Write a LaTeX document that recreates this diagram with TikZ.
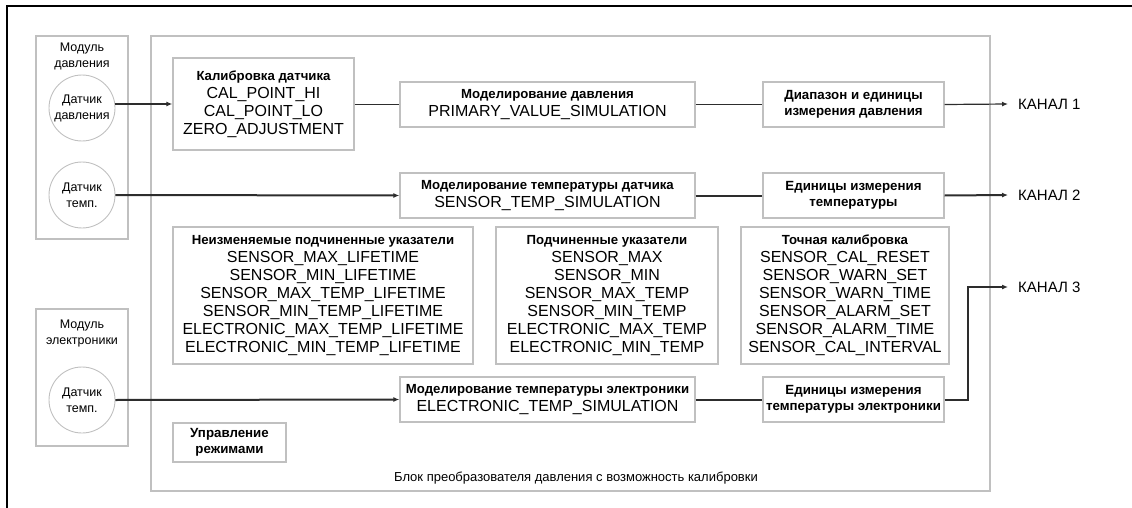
\documentclass[tikz,border=0pt]{standalone}
\usepackage{fontspec}
\setmainfont{Liberation Sans}
\usetikzlibrary{arrows.meta}
\definecolor{boxgray}{RGB}{192,192,192}
\definecolor{wiregray}{RGB}{45,45,45}
\newcommand{\hd}[1]{{\fontsize{13.2}{15}\bfseries #1}}

\begin{document}
\begin{tikzpicture}[x=1pt, y=-1pt,
	box/.style={draw=boxgray, line width=1.4pt, inner sep=0pt, align=center,
		font=\fontsize{16}{18}\selectfont},
	bbox/.style={box, font=\fontsize{13.3}{16}\bfseries},
	modbox/.style={draw=boxgray, line width=1.4pt, inner sep=0pt},
	sensor/.style={circle, draw=boxgray, line width=0.9pt, minimum size=66pt,
		inner sep=0pt, align=center, font=\fontsize{12.5}{16}\selectfont},
	lbl/.style={align=center, inner sep=0pt, font=\fontsize{12.5}{16}\selectfont},
	chan/.style={anchor=west, inner sep=0pt, inner xsep=10pt, font=\fontsize{15}{18}\selectfont},
	wire/.style={draw=wiregray, line width=1.2pt},
	twire/.style={draw=wiregray, line width=2pt},
	tip/.style={-{Latex[length=6pt, width=5pt]}}
	]

	\useasboundingbox (0,0) rectangle (1132,508);
	\draw[line width=1.6pt] (7,508) -- (7,6) -- (1132,6);

	% modules
	\node[modbox, minimum width=92pt, minimum height=203pt] (mod-p) at (82,137.5) {};
	\node[modbox, minimum width=92pt, minimum height=137pt] (mod-e) at (82,377.5) {};
	\node[lbl] (mod-p-t) at (82,56) {Модуль\\давления};
	\node[lbl] (mod-e-t) at (82,333) {Модуль\\электроники};

	\node[sensor] (sens-p) at (82,108) {Датчик\\давления};
	\node[sensor] (sens-t1) at (82,195) {Датчик\\темп.};
	\node[sensor] (sens-t2) at (82,400) {Датчик\\темп.};

	% transducer block
	\node[modbox, minimum width=839pt, minimum height=455pt] (blk) at (570.5,263.5) {};
	\node[lbl, font=\fontsize{13}{15}\selectfont] (blk-t) at (576,478)
		{Блок преобразователя давления с возможность калибровки};

	\node[box, minimum width=181pt, minimum height=92pt] (calib) at (263.5,104)
		{\hd{Калибровка датчика}\\CAL\_POINT\_HI\\CAL\_POINT\_LO\\ZERO\_ADJUSTMENT};
	\node[box, minimum width=295pt, minimum height=45pt] (pvsim) at (547.5,104.5)
		{\hd{Моделирование давления}\\PRIMARY\_VALUE\_SIMULATION};
	\node[bbox, minimum width=181pt, minimum height=45pt] (range) at (853.5,104.5)
		{Диапазон и единицы\\измерения давления};

	\node[box, minimum width=295pt, minimum height=45pt] (tsim) at (547.5,195.5)
		{\hd{Моделирование температуры датчика}\\SENSOR\_TEMP\_SIMULATION};
	\node[bbox, minimum width=181pt, minimum height=45pt] (tunits) at (853.5,195.5)
		{Единицы измерения\\температуры};

	\node[box, minimum width=300pt, minimum height=137pt] (fixed) at (323,295.5)
		{\hd{Неизменяемые подчиненные указатели}\\SENSOR\_MAX\_LIFETIME\\SENSOR\_MIN\_LIFETIME\\
		SENSOR\_MAX\_TEMP\_LIFETIME\\SENSOR\_MIN\_TEMP\_LIFETIME\\
		ELECTRONIC\_MAX\_TEMP\_LIFETIME\\ELECTRONIC\_MIN\_TEMP\_LIFETIME};
	\node[box, minimum width=222pt, minimum height=137pt] (track) at (607,295.5)
		{\hd{Подчиненные указатели}\\SENSOR\_MAX\\SENSOR\_MIN\\SENSOR\_MAX\_TEMP\\
		SENSOR\_MIN\_TEMP\\ELECTRONIC\_MAX\_TEMP\\ELECTRONIC\_MIN\_TEMP};
	\node[box, minimum width=208pt, minimum height=137pt] (trim) at (845,295.5)
		{\hd{Точная калибровка}\\SENSOR\_CAL\_RESET\\SENSOR\_WARN\_SET\\SENSOR\_WARN\_TIME\\
		SENSOR\_ALARM\_SET\\SENSOR\_ALARM\_TIME\\SENSOR\_CAL\_INTERVAL};

	\node[box, minimum width=295pt, minimum height=45pt] (esim) at (547.5,399.5)
		{\hd{Моделирование температуры электроники}\\ELECTRONIC\_TEMP\_SIMULATION};
	\node[bbox, minimum width=181pt, minimum height=45pt] (eunits) at (853.5,399.5)
		{Единицы измерения\\температуры электроники};

	\node[bbox, minimum width=113pt, minimum height=39pt] (modes) at (229.5,442.5)
		{Управление\\режимами};

	% outputs
	\node[chan] (ch1) at (1008,104) {КАНАЛ 1};
	\node[chan] (ch2) at (1008,195) {КАНАЛ 2};
	\node[chan] (ch3) at (1008,287) {КАНАЛ 3};

	\draw[wire, tip] (sens-p.east |- calib.west) -- (calib.west);
	\draw[wire] (calib.east |- pvsim.west) -- (pvsim.west);
	\draw[wire] (pvsim) -- (range);
	\draw[wire, tip] (range.east) -- (ch1.west);

	\foreach \a/\b in {sens-t1/tsim, sens-t2/esim}
	{
		\draw[twire, tip] (\a.east) -- (\b.west);
	};
	\draw[twire] (tsim) -- (tunits);
	\draw[twire] (esim) -- (eunits);
	\draw[twire, tip] (tunits.east) -- (ch2.west);
	\draw[twire, tip] (eunits.east) -- ++(23,0) |- (ch3.west);
\end{tikzpicture}
\end{document}
